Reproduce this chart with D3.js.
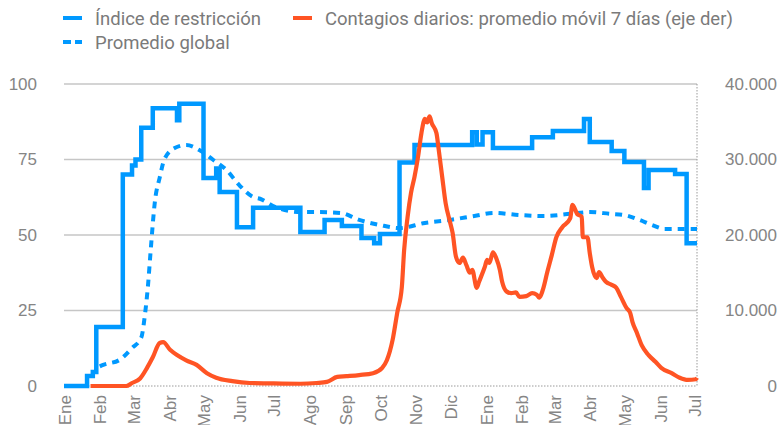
<!DOCTYPE html>
<html>
<head>
<meta charset="utf-8">
<script src="https://cdn.jsdelivr.net/npm/d3@7"></script>
<style>
  body { margin: 0; background: #fff; }
  svg { display: block; font-family: Roboto, "Noto Sans", sans-serif; }
</style>
</head>
<body>
<script>
"use strict";

// month labels (Spanish)
const meses = ["Ene", "Feb", "Mar", "Abr", "May", "Jun", "Jul", "Ago", "Sep", "Oct", "Nov", "Dic"];
const leftTicks = [0, 25, 50, 75, 100];
const rightTicks = [0, 10000, 20000, 30000, 40000];

// Índice de restricción (step series)
const restriccion = [
  ["2020-01-01", 0], ["2020-01-21", 3.3], ["2020-01-26", 4.6], ["2020-01-29", 19.5],
  ["2020-02-21", 70], ["2020-02-29", 73], ["2020-03-03", 75], ["2020-03-08", 85.5],
  ["2020-03-18", 92], ["2020-04-08", 88], ["2020-04-10", 93.5], ["2020-05-01", 68.9],
  ["2020-05-12", 72], ["2020-05-15", 64.2], ["2020-05-30", 52.6], ["2020-06-13", 59],
  ["2020-07-24", 51], ["2020-08-14", 55], ["2020-08-29", 53], ["2020-09-15", 49],
  ["2020-09-26", 47.3], ["2020-10-01", 50.3], ["2020-10-18", 74], ["2020-10-31", 79.8],
  ["2020-12-20", 84], ["2020-12-24", 80], ["2020-12-29", 84], ["2021-01-07", 78.8],
  ["2021-02-10", 82.4], ["2021-02-28", 84.4], ["2021-03-27", 88.4], ["2021-04-01", 80.8],
  ["2021-04-20", 77.8], ["2021-05-01", 74.2], ["2021-05-18", 65.6], ["2021-05-22", 71.5],
  ["2021-06-14", 70.2], ["2021-06-24", 47.3], ["2021-07-03", 47.3]
];

// Promedio global
const promedioGlobal = [
  ["2020-02-01", 6.5], ["2020-02-04", 7], ["2020-02-18", 8.6], ["2020-02-29", 12.6],
  ["2020-03-08", 16], ["2020-03-11", 23], ["2020-03-14", 34], ["2020-03-16", 44],
  ["2020-03-20", 61.6], ["2020-03-24", 69], ["2020-03-28", 75], ["2020-04-06", 78.8],
  ["2020-04-16", 79.8], ["2020-04-28", 78], ["2020-05-09", 75], ["2020-05-21", 71.5],
  ["2020-06-01", 66.5], ["2020-06-13", 62.6], ["2020-06-19", 62], ["2020-07-02", 59.3],
  ["2020-07-24", 57.6], ["2020-08-10", 57.6], ["2020-08-28", 57.3], ["2020-09-13", 55],
  ["2020-10-01", 53.3], ["2020-10-18", 52.3], ["2020-11-09", 54], ["2020-12-01", 55],
  ["2020-12-22", 56.3], ["2021-01-08", 57.3], ["2021-01-30", 56.6], ["2021-02-20", 56.3],
  ["2021-03-15", 57], ["2021-04-01", 57.6], ["2021-04-19", 57], ["2021-05-01", 56.6],
  ["2021-05-14", 55], ["2021-05-25", 53.3], ["2021-06-05", 52], ["2021-06-27", 52],
  ["2021-07-03", 52]
];

// Contagios diarios: promedio móvil 7 días (eje der)
const contagios = [
  ["2020-01-24", 0], ["2020-02-24", 0], ["2020-02-29", 400], ["2020-03-07", 1000],
  ["2020-03-13", 2400], ["2020-03-18", 3800], ["2020-03-24", 5700], ["2020-03-27", 5800],
  ["2020-04-02", 4800], ["2020-04-08", 4100], ["2020-04-16", 3400], ["2020-04-25", 2800],
  ["2020-05-04", 1700], ["2020-05-12", 1100], ["2020-05-26", 650], ["2020-06-10", 400],
  ["2020-06-27", 350], ["2020-07-24", 300], ["2020-08-07", 400], ["2020-08-16", 550],
  ["2020-08-25", 1200], ["2020-09-02", 1300], ["2020-09-13", 1450], ["2020-09-25", 1700],
  ["2020-10-03", 2400], ["2020-10-07", 3400], ["2020-10-12", 6100], ["2020-10-16", 9700],
  ["2020-10-20", 13100], ["2020-10-22", 18000], ["2020-10-25", 22400], ["2020-10-28", 25600],
  ["2020-10-31", 27700], ["2020-11-03", 30300], ["2020-11-06", 33500], ["2020-11-09", 35400],
  ["2020-11-11", 34900], ["2020-11-13", 35700], ["2020-11-15", 34800], ["2020-11-19", 33500], ["2020-11-21", 31300],
  ["2020-11-24", 27700], ["2020-11-27", 24200], ["2020-12-01", 21600], ["2020-12-03", 20300],
  ["2020-12-06", 17100], ["2020-12-09", 16300], ["2020-12-12", 17000], ["2020-12-15", 16000],
  ["2020-12-18", 15000], ["2020-12-20", 15400], ["2020-12-24", 13000], ["2020-12-26", 13800],
  ["2020-12-31", 15800], ["2021-01-02", 16700], ["2021-01-04", 16300], ["2021-01-07", 17700],
  ["2021-01-10", 16900], ["2021-01-13", 15400], ["2021-01-15", 13800], ["2021-01-19", 12500],
  ["2021-01-23", 12300], ["2021-01-27", 12400], ["2021-01-30", 11800], ["2021-02-05", 11900],
  ["2021-02-10", 12300], ["2021-02-14", 12100], ["2021-02-16", 11700], ["2021-02-20", 13100],
  ["2021-02-23", 15000], ["2021-02-27", 17300], ["2021-03-03", 19700], ["2021-03-08", 21000],
  ["2021-03-15", 22200], ["2021-03-17", 24000], ["2021-03-21", 22800], ["2021-03-25", 22400],
  ["2021-03-26", 19700], ["2021-03-30", 19700], ["2021-04-01", 17600], ["2021-04-03", 15800],
  ["2021-04-07", 14300], ["2021-04-09", 15100], ["2021-04-12", 14400], ["2021-04-15", 13800],
  ["2021-04-20", 13400], ["2021-04-24", 13000], ["2021-04-28", 11800], ["2021-05-03", 10300],
  ["2021-05-06", 9700], ["2021-05-08", 8500], ["2021-05-12", 7000], ["2021-05-16", 5400],
  ["2021-05-22", 4100], ["2021-05-28", 3200], ["2021-06-02", 2400], ["2021-06-11", 1700],
  ["2021-06-18", 1100], ["2021-06-25", 800], ["2021-07-02", 900], ["2021-07-03", 1100]
];

const width = 780, height = 425;
const margin = {top: 84, right: 83, bottom: 39, left: 64};

const blue = "#0099ff", orange = "#ff5424", textGray = "#858585", gridGray = "#c6c6c6";

const parse = d3.timeParse("%Y-%m-%d");

const svg = d3.select("body").append("svg")
  .attr("width", width)
  .attr("height", height);

const xScale = d3.scaleTime()
  .domain([parse("2020-01-01"), parse("2021-07-03")])
  .range([margin.left, width - margin.right]);

const yLeft = d3.scaleLinear()
  .domain([0, 100])
  .range([height - margin.bottom, margin.top]);

const yRight = d3.scaleLinear()
  .domain([0, 40000])
  .range([height - margin.bottom, margin.top]);

const esFormat = d3.formatLocale({decimal: ",", thousands: ".", grouping: [3], currency: ["", ""]}).format(",");

// horizontal grid lines
svg.append("g").selectAll("line").data(leftTicks)
  .enter().append("line")
    .attr("x1", margin.left)
    .attr("x2", width - margin.right)
    .attr("y1", d => yLeft(d))
    .attr("y2", d => yLeft(d))
    .attr("stroke", d => d === 0 ? "#9a9a9a" : gridGray)
    .attr("stroke-width", d => d === 0 ? 1 : 1.3)
    .attr("stroke-dasharray", d => d === 0 ? "1.5,1.5" : null);

// right edge dotted line
svg.append("line")
  .attr("x1", width - margin.right).attr("x2", width - margin.right)
  .attr("y1", margin.top).attr("y2", height - margin.bottom)
  .attr("stroke", "#9a9a9a")
  .attr("stroke-dasharray", "1.5,1.5");

// left axis
const leftAxis = svg.append("g")
  .attr("transform", "translate(" + margin.left + ",0)")
  .call(d3.axisLeft(yLeft).tickValues(leftTicks).tickSize(0).tickPadding(27));
leftAxis.select(".domain").remove();
leftAxis.selectAll("text")
  .style("font-size", "17px")
  .attr("fill", textGray);

// right axis (labels right-aligned at edge)
const rightAxis = svg.append("g")
  .attr("transform", "translate(" + (width - 3) + ",0)")
  .call(d3.axisLeft(yRight).tickValues(rightTicks).tickSize(0).tickPadding(0).tickFormat(esFormat));
rightAxis.select(".domain").remove();
rightAxis.selectAll("text")
  .style("font-size", "17px")
  .attr("fill", textGray);

// bottom axis, rotated month labels
const xAxis = svg.append("g")
  .attr("transform", "translate(0," + (height - margin.bottom) + ")")
  .call(d3.axisBottom(xScale)
    .ticks(d3.timeMonth.every(1))
    .tickSize(0)
    .tickFormat(d => meses[d.getMonth()]));
xAxis.select(".domain").remove();
xAxis.selectAll("text")
  .attr("transform", "rotate(-90)")
  .attr("text-anchor", "end")
  .attr("x", -9)
  .attr("y", 0)
  .attr("dy", "0.36em")
  .style("font-size", "17px")
  .attr("fill", textGray);

// lines
const lineLeft = d3.line()
  .x(d => xScale(parse(d[0])))
  .y(d => yLeft(d[1]));

svg.append("path")
  .datum(promedioGlobal)
  .attr("d", lineLeft.curve(d3.curveMonotoneX))
  .attr("fill", "none")
  .attr("stroke", blue)
  .attr("stroke-width", 4)
  .attr("stroke-dasharray", "7,6");

svg.append("path")
  .datum(restriccion)
  .attr("d", lineLeft.curve(d3.curveStepAfter))
  .attr("fill", "none")
  .attr("stroke", blue)
  .attr("stroke-width", 4.5);

const lineRight = d3.line()
  .x(d => xScale(parse(d[0])))
  .y(d => yRight(d[1]))
  .curve(d3.curveMonotoneX);

svg.append("path")
  .datum(contagios)
  .attr("d", lineRight)
  .attr("fill", "none")
  .attr("stroke", orange)
  .attr("stroke-width", 4.2)
  .attr("stroke-linejoin", "round");

// legend
function legendItem(x, y, color, dashed, label) {
  svg.append("line")
    .attr("x1", x).attr("x2", x + 19)
    .attr("y1", y).attr("y2", y)
    .attr("stroke", color)
    .attr("stroke-width", 4)
    .attr("stroke-dasharray", dashed ? "8,4" : null);
  svg.append("text")
    .attr("x", x + 32)
    .attr("y", y)
    .attr("dy", "0.36em")
    .style("font-size", "18.5px")
    .attr("fill", "#7a7a7a")
    .text(label);
}

legendItem(63, 18, blue, false, "Índice de restricción");
legendItem(293, 18, orange, false, "Contagios diarios: promedio móvil 7 días (eje der)");
legendItem(63, 42, blue, true, "Promedio global");
</script>
</body>
</html>
